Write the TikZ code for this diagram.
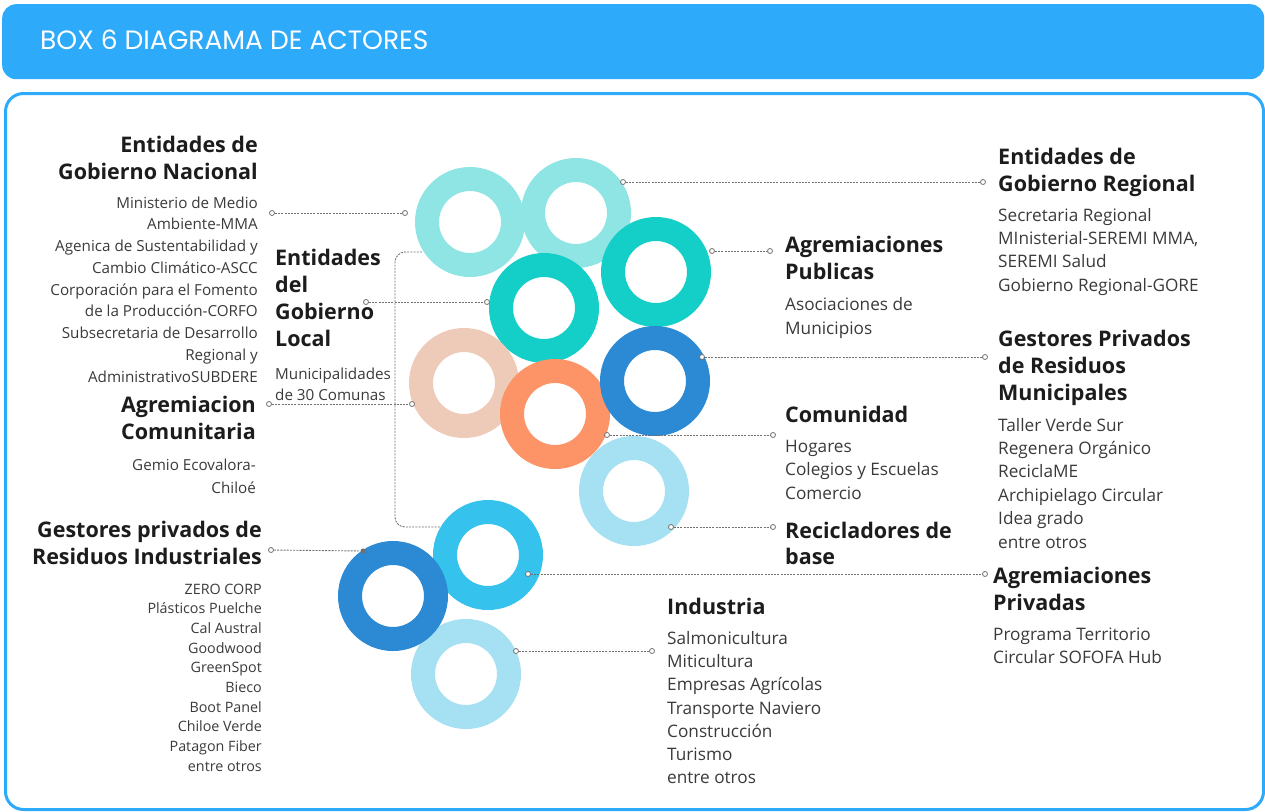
\documentclass[tikz,border=0pt]{standalone}
\usepackage{fontspec}
\setmainfont{Open Sans}
\newfontfamily\titlefont{Poppins}
\definecolor{hdrblue}{HTML}{2EAAFA}
\definecolor{ltteal}{HTML}{8EE5E4}
\definecolor{teal}{HTML}{14CEC8}
\definecolor{dkblue}{HTML}{2C89D3}
\definecolor{peach}{HTML}{EECAB8}
\definecolor{orng}{HTML}{FC9467}
\definecolor{ltblue}{HTML}{A6E0F3}
\definecolor{cyanb}{HTML}{35C2EC}
\definecolor{headc}{HTML}{1C1C1C}
\definecolor{bodyc}{HTML}{3A3A3A}
\definecolor{connc}{HTML}{707070}
\tikzset{
  ring/.style={circle, minimum size=86pt, inner sep=0pt, line width=24pt},
  hd/.style={font=\fontsize{21.5}{24}\selectfont\bfseries, text=headc, inner sep=0pt},
  bdr/.style={font=\fontsize{17.2}{20}\selectfont, text=bodyc, inner sep=0pt},
  bdl/.style={font=\fontsize{15.2}{18}\selectfont, text=bodyc, inner sep=0pt},
  bds/.style={font=\fontsize{14.3}{16}\selectfont, text=bodyc, inner sep=0pt},
  conn/.style={draw=connc, line width=0.9pt, dash pattern=on 2pt off 1.2pt},
  dot/.style={circle, draw=connc, fill=white, line width=0.8pt, minimum size=5pt, inner sep=0pt},
  dotdark/.style={circle, fill=connc, minimum size=5pt, inner sep=0pt},
}
\begin{document}
\begin{tikzpicture}[x=1pt,y=-1pt]
\useasboundingbox (0,0) rectangle (1265,811);
% header
\node[fill=hdrblue, rounded corners=14pt, minimum width=1262pt, minimum height=75pt, anchor=north west, inner sep=0pt] (hdr) at (2,4) {};
\node[anchor=base west, inner sep=0pt, text=white, font=\titlefont\fontsize{26.5}{30}\selectfont] (title) at (40,49.5) {BOX 6 DIAGRAMA DE ACTORES};
% main box
\node[draw=hdrblue, line width=3pt, rounded corners=18pt, minimum width=1258pt, minimum height=716pt, anchor=north west, inner sep=0pt] (box) at (4,92) {};

% rings
\node[ring, draw=ltteal] (rA) at (470,222) {};
\node[ring, draw=ltteal] (rB) at (576,213) {};
\node[ring, draw=teal] (rD) at (656,272) {};
\node[ring, draw=teal] (rC) at (544,308) {};
\node[ring, draw=peach] (rF) at (464,383) {};
\node[ring, draw=orng] (rG) at (555,414) {};
\node[ring, draw=dkblue] (rE) at (655,381) {};
\node[ring, draw=ltblue] (rH) at (634,491) {};
\node[ring, draw=cyanb] (rI) at (488,555) {};
\node[ring, draw=ltblue] (rK) at (466,674) {};
\node[ring, draw=dkblue] (rJ) at (393,596) {};

% connectors
\node[dot] (c1a) at (272,213) {}; \node[dot] (c1b) at (405,213) {};
\draw[conn] (c1a) -- (c1b);
\node[dot] (c2a) at (623,182) {}; \node[dot] (c2b) at (983,182) {};
\draw[conn] (c2a) -- (c2b);
\node[dot] (c3a) at (712,251) {}; \node[dot] (c3b) at (770,251) {};
\draw[conn] (c3a) -- (c3b);
\node[dot] (c4a) at (366,302) {}; \node[dot] (c4b) at (487,302) {};
\draw[conn] (c4a) -- (c4b);
\node[dot] (c5a) at (269,404) {}; \node[dot] (c5b) at (412,404) {};
\draw[conn] (c5a) -- (c5b);
\node[dot] (c6a) at (702,357) {}; \node[dot] (c6b) at (985,357) {};
\draw[conn] (c6a) -- (c6b);
\node[dot] (c7a) at (607,435) {}; \node[dot] (c7b) at (773,435) {};
\draw[conn] (c7a) -- (c7b);
\node[dot] (c8a) at (671,527) {}; \node[dot] (c8b) at (773,527) {};
\draw[conn] (c8a) -- (c8b);
\node[dot] (c9a) at (271,550) {}; \node[dotdark] (c9b) at (363,551) {};
\draw[conn] (c9a) -- (c9b);
\node[dot] (c10a) at (528,574) {}; \node[dot] (c10b) at (985,574) {};
\draw[conn] (c10a) -- (c10b);
\node[dot] (c11a) at (516,651) {}; \node[dot] (c11b) at (652,651) {};
\draw[conn] (c11a) -- (c11b);
\coordinate (lp1) at (422,252);
\coordinate (lpc) at (395,390);
\coordinate (lp2) at (440,527);
\draw[conn, rounded corners=10pt] (lp1) -| (lpc) |- (lp2);

% left column
\foreach \t [count=\i] in {Entidades de, Gobierno Nacional}
  \node[hd, anchor=base east] (gnh\i) at (258,{152+27*(\i-1)}) {\t};
\foreach \t [count=\i] in {Ministerio de Medio, Ambiente-MMA, Agenica de Sustentabilidad y, Cambio Climático-ASCC, Corporación para el Fomento, de la Producción-CORFO, Subsecretaria de Desarrollo, Regional y, AdministrativoSUBDERE}
  \node[bdl, anchor=base east] (gnb\i) at (258,{208+21.75*(\i-1)}) {\t};
\foreach \t [count=\i] in {Agremiacion, Comunitaria}
  \node[hd, anchor=base east] (ach\i) at (256,{412+27*(\i-1)}) {\t};
\foreach \t [count=\i] in {Gemio Ecovalora-, Chiloé}
  \node[bdl, anchor=base east] (acb\i) at (256,{470+23*(\i-1)}) {\t};
\foreach \t [count=\i] in {Gestores privados de, Residuos Industriales}
  \node[hd, anchor=base east] (rih\i) at (262,{537+27*(\i-1)}) {\t};
\foreach \t [count=\i] in {ZERO CORP, Plásticos Puelche, Cal Austral, Goodwood, GreenSpot, Bieco, Boot Panel, Chiloe Verde, Patagon Fiber, entre otros}
  \node[bds, anchor=base east] (rib\i) at (262,{594+19.7*(\i-1)}) {\t};

% middle
\foreach \t [count=\i] in {Entidades, del, Gobierno, Local}
  \node[hd, anchor=base west] (glh\i) at (275,{265+27*(\i-1)}) {\t};
\foreach \t [count=\i] in {Municipalidades, de 30 Comunas}
  \node[bdl, anchor=base west] (glb\i) at (275,{379+21*(\i-1)}) {\t};

% right inner column
\foreach \t [count=\i] in {Agremiaciones, Publicas}
  \node[hd, anchor=base west] (aph\i) at (785,{252+27*(\i-1)}) {\t};
\foreach \t [count=\i] in {Asociaciones de, Municipios}
  \node[bdr, anchor=base west] (apb\i) at (785,{310+24*(\i-1)}) {\t};
\node[hd, anchor=base west] (coh1) at (785,422) {Comunidad};
\foreach \t [count=\i] in {Hogares, Colegios y Escuelas, Comercio}
  \node[bdr, anchor=base west] (cob\i) at (785,{452+23.5*(\i-1)}) {\t};
\foreach \t [count=\i] in {Recicladores de, base}
  \node[hd, anchor=base west] (rbh\i) at (785,{538+26*(\i-1)}) {\t};
\node[hd, anchor=base west] (inh1) at (667,614) {Industria};
\foreach \t [count=\i] in {Salmonicultura, Miticultura, Empresas Agrícolas, Transporte Naviero, Construcción, Turismo, entre otros}
  \node[bdr, anchor=base west] (inb\i) at (667,{644+23.33*(\i-1)}) {\t};

% right outer column
\foreach \t [count=\i] in {Entidades de, Gobierno Regional}
  \node[hd, anchor=base west] (grh\i) at (998,{164+27*(\i-1)}) {\t};
\foreach \t [count=\i] in {Secretaria Regional, {MInisterial-SEREMI MMA,}, SEREMI Salud, Gobierno Regional-GORE}
  \node[bdr, anchor=base west] (grb\i) at (998,{221+23.4*(\i-1)}) {\t};
\foreach \t [count=\i] in {Gestores Privados, de Residuos, Municipales}
  \node[hd, anchor=base west] (gmh\i) at (998,{346+27*(\i-1)}) {\t};
\foreach \t [count=\i] in {Taller Verde Sur, Regenera Orgánico, ReciclaME, Archipielago Circular, Idea grado, entre otros}
  \node[bdr, anchor=base west] (gmb\i) at (998,{431+23.4*(\i-1)}) {\t};
\foreach \t [count=\i] in {Agremiaciones, Privadas}
  \node[hd, anchor=base west] (aqh\i) at (993,{583+27*(\i-1)}) {\t};
\foreach \t [count=\i] in {Programa Territorio, Circular SOFOFA Hub}
  \node[bdr, anchor=base west] (aqb\i) at (993,{640+23*(\i-1)}) {\t};
\end{tikzpicture}
\end{document}
